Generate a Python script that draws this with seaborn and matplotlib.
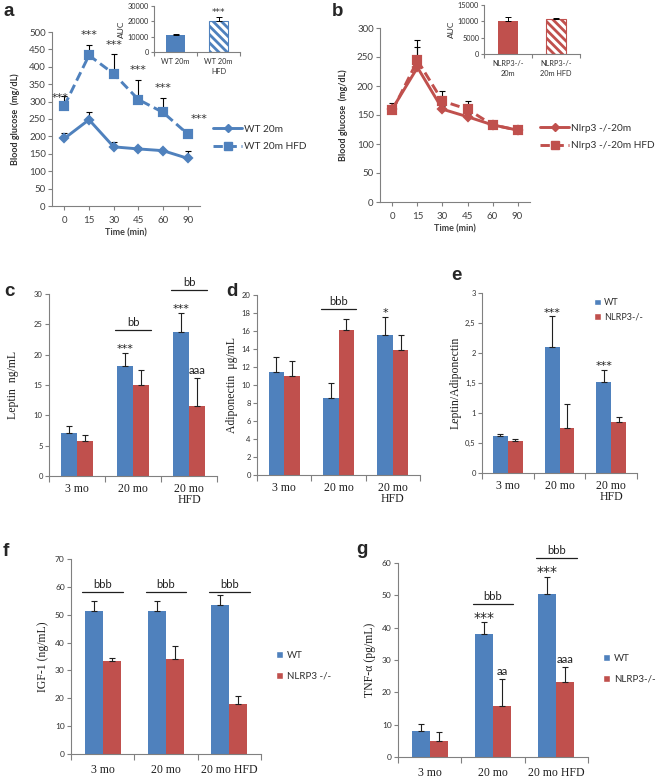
import numpy as np
import pandas as pd
import matplotlib
matplotlib.use("Agg")
import matplotlib.pyplot as plt
import seaborn as sns
from matplotlib.lines import Line2D
from matplotlib.patches import Patch
from matplotlib.ticker import FuncFormatter

# ---------------- DATA ----------------
times = ['0', '15', '30', '45', '60', '90']
wt20 = [194, 248, 170, 164, 159, 137]
wt20_err = [17, 21, 14, 6, 2, 20]
wt20hfd = [288, 433, 380, 306, 269, 207]
wt20hfd_err = [29, 29, 58, 57, 41, 10]
series_a = ['WT 20m', 'WT 20m HFD']

nl20 = [161, 232, 160, 147, 133, 124]
nl20_err = [10, 36, 5, 4, 4, 2]
nl20hfd = [158, 244, 174, 160, 133, 124]
nl20hfd_err = [4, 35, 18, 14, 5, 2]
series_b = ['Nlrp3 -/-20m', 'Nlrp3 -/-20m HFD']

auc_a_labels = ['WT 20m', 'WT 20m\nHFD']
auc_a = [11300, 20100]
auc_a_err = [400, 2800]
auc_b_labels = ['NLRP3-/-\n20m', 'NLRP3-/-\n20m HFD']
auc_b = [10200, 10700]
auc_b_err = [1000, 400]

groups_ce = ['3 mo', '20 mo', '20 mo\nHFD']
groups_fg = ['3 mo', '20 mo', '20 mo HFD']

leptin_wt = [7.1, 18.2, 23.8]
leptin_wt_err = [1.1, 2.1, 3.1]
leptin_ko = [5.7, 15.0, 11.6]
leptin_ko_err = [1.1, 2.4, 4.5]

adipo_wt = [11.5, 8.6, 15.6]
adipo_wt_err = [1.6, 1.6, 2.0]
adipo_ko = [11.0, 16.1, 13.9]
adipo_ko_err = [1.7, 1.2, 1.7]

ratio_wt = [0.61, 2.10, 1.52]
ratio_wt_err = [0.04, 0.51, 0.20]
ratio_ko = [0.53, 0.75, 0.85]
ratio_ko_err = [0.04, 0.40, 0.09]

igf_wt = [51.5, 51.5, 53.6]
igf_wt_err = [3.5, 3.3, 3.5]
igf_ko = [33.5, 34.2, 18.0]
igf_ko_err = [1.0, 4.7, 3.0]

tnf_wt = [7.9, 38.0, 50.3]
tnf_wt_err = [2.2, 3.6, 5.5]
tnf_ko = [5.1, 15.7, 23.1]
tnf_ko_err = [2.7, 8.5, 4.8]

# ---------------- STYLE ----------------
sns.set_theme(style='ticks')
plt.rcParams['font.family'] = ['Lato', 'DejaVu Sans']
plt.rcParams['hatch.linewidth'] = 2.0
SERIF = ['Liberation Serif', 'DejaVu Serif']
STARF = ['DejaVu Sans']
BLUE = '#4F81BD'
RED = '#C0504D'
AXC = '#808080'
W, H = 661, 779

fig = plt.figure(figsize=(W / 100, H / 100), dpi=100)
fig.patch.set_facecolor('white')


def px_rect(l, t, r, b):
    return [l / W, 1 - b / H, (r - l) / W, (b - t) / H]


def fx(x):
    return x / W


def fy(y):
    return 1 - y / H


def style_axes(ax):
    sns.despine(ax=ax)
    for s in ['left', 'bottom']:
        ax.spines[s].set_color(AXC)
        ax.spines[s].set_linewidth(0.8)
    ax.tick_params(axis='both', which='both', direction='out', color=AXC,
                   width=0.8, length=3, pad=1.5)
    ax.set_xlabel('')
    ax.set_ylabel('')
    ax.grid(False)


# ---------------- LINE PANELS (a, b) ----------------
def line_panel(rect, v1, e1, v2, e2, names, color, ymax, stars=None):
    ax = fig.add_axes(px_rect(*rect))
    df = pd.DataFrame({'time': times * 2, 'glucose': v1 + v2,
                       'group': [names[0]] * len(times) + [names[1]] * len(times)})
    sns.pointplot(data=df, x='time', y='glucose', hue='group', order=times,
                  hue_order=names, palette=[color, color], markers=['D', 's'],
                  linestyles=['-', '--'], errorbar=None, ax=ax, legend=False,
                  markersize=5, linewidth=2.1)
    for ln in ax.lines:
        if ln.get_marker() == 'D':
            ln.set_markersize(4)
        else:
            ln.set_markersize(5.4)
            ln.set_dashes([3.2, 1.6])
    xs = np.arange(len(times))
    for v, e in [(v1, e1), (v2, e2)]:
        ax.errorbar(xs, v, yerr=[np.zeros(len(e)), e], fmt='none', ecolor='black',
                    elinewidth=0.8, capsize=2.2, capthick=0.8, zorder=1)
    style_axes(ax)
    ax.set_xlim(-0.5, len(times) - 0.5)
    ax.set_ylim(0, ymax)
    ax.set_yticks(np.arange(0, ymax + 1, 50))
    ax.tick_params(axis='both', labelsize=7, colors='#404040')
    ax.tick_params(axis='x', pad=4)
    ax.tick_params(axis='both', color=AXC)
    ax.set_xlabel('Time (min)', fontsize=6.5, fontweight='bold', labelpad=3, color='#404040')
    if stars is not None:
        dx = [-0.16, 0, 0, 0, 0, 0.45]
        dy = [-6, 28, 24, 27, 30, 34]
        for i in range(len(times)):
            ax.text(i + dx[i], v2[i] + e2[i] + dy[i], stars[i], ha='center',
                    va='center', fontsize=8, family=STARF, color='#303030')
    return ax


axA = line_panel((52, 32, 200, 206), wt20, wt20_err, wt20hfd, wt20hfd_err,
                 series_a, BLUE, 500, stars=['***'] * 6)
axB = line_panel((380, 28, 530, 202), nl20, nl20_err, nl20hfd, nl20hfd_err,
                 series_b, RED, 300)

for ax, names, color, lx, ly in [(axA, series_a, BLUE, 213, 138), (axB, series_b, RED, 540, 137)]:
    hnd = [Line2D([], [], color=color, lw=2.1, marker='D', ms=4),
           Line2D([], [], color=color, lw=2.1, marker='s', ms=5.4, dashes=[3.2, 1.6])]
    fig.legend(hnd, names, loc='center left', bbox_to_anchor=(fx(lx), fy(ly)),
               frameon=False, fontsize=7.3, handlelength=2.9, handletextpad=0.2,
               labelspacing=0.85, borderpad=0, borderaxespad=0, labelcolor='#303030')

fig.text(fx(15), fy(119), 'Blood glucose  (mg/dL)', rotation=90, ha='center', va='center',
         fontsize=6.5, fontweight='bold', color='#303030')
fig.text(fx(343), fy(115), 'Blood glucose  (mg/dL)', rotation=90, ha='center', va='center',
         fontsize=6.5, fontweight='bold', color='#303030')


# ---------------- INSETS ----------------
def inset(rect, labels, vals, errs, color, ymax, step, star=None):
    ax = fig.add_axes(px_rect(*rect))
    sns.barplot(x=labels, y=vals, hue=labels, palette=[color, color], width=0.42,
                legend=False, ax=ax, linewidth=0, saturation=1)
    bars = [c[0] for c in ax.containers]
    hb = bars[1]
    hb.set_facecolor('white')
    hb.set_edgecolor(color)
    hb.set_linewidth(0.8)
    hb.set_hatch('\\' * 4)
    xs = [b.get_x() + b.get_width() / 2 for b in bars]
    ax.errorbar(xs, vals, yerr=[np.zeros(len(errs)), errs], fmt='none', ecolor='black',
                elinewidth=0.7, capsize=2, capthick=0.7)
    style_axes(ax)
    ax.set_ylim(0, ymax)
    ax.set_yticks(np.arange(0, ymax + 1, step))
    ax.set_xlim(-0.5, 1.5)
    ax.set_xticks(range(len(labels)))
    ax.set_xticklabels(labels, fontsize=5.3, linespacing=1.5)
    ax.tick_params(axis='x', which='major', length=0, pad=4)
    ax.set_xticks([-0.5, 0.5, 1.5], minor=True)
    ax.tick_params(axis='x', which='minor', length=3)
    ax.tick_params(axis='y', labelsize=5.3, length=2)
    ax.tick_params(axis='both', labelcolor='#303030')
    ax.set_ylabel('AUC', fontsize=6, labelpad=2, color='#303030')
    if star:
        ax.annotate(star, (xs[1], vals[1] + errs[1]), xytext=(0, 1),
                    textcoords='offset points', ha='center', va='baseline', fontsize=6.5,
                    family=STARF, color='#303030', annotation_clip=False)
    return ax


inset((154, 6, 240, 52), auc_a_labels, auc_a, auc_a_err, BLUE, 30000, 10000, star='***')
inset((484, 5, 580, 54), auc_b_labels, auc_b, auc_b_err, RED, 15000, 5000)


# ---------------- BAR PANELS ----------------
def bar_panel(rect, groups, genos, wt, wte, ko, koe, ymax, step, ylabel, ylabel_x,
              cat_fs=8.5, cat_pad=5, ytick_fs=5.5, wt_marks=None, star_fs=8, ko_marks=None,
              ko_ha='center', brackets=None, br_pad=0.12, br_uniform=False,
              fmt=None, legend=None):
    ax = fig.add_axes(px_rect(*rect))
    df = pd.DataFrame({'group': groups * 2, 'val': wt + ko,
                       'geno': [genos[0]] * len(groups) + [genos[1]] * len(groups)})
    sns.barplot(data=df, x='group', y='val', hue='geno', order=groups, hue_order=genos,
                palette=[BLUE, RED], width=0.57, errorbar=None, ax=ax, legend=False,
                linewidth=0, saturation=1)
    cw, ck = ax.containers[0], ax.containers[1]
    xw = [b.get_x() + b.get_width() / 2 for b in cw]
    xk = [b.get_x() + b.get_width() / 2 for b in ck]
    for xs, v, e in [(xw, wt, wte), (xk, ko, koe)]:
        ax.errorbar(xs, v, yerr=[np.zeros(len(e)), e], fmt='none', ecolor='#202020',
                    elinewidth=0.8, capsize=2.3, capthick=0.8)
    style_axes(ax)
    ax.set_ylim(0, ymax)
    ax.set_xlim(-0.5, len(groups) - 0.5)
    ax.set_yticks(np.arange(0, ymax + step / 2, step))
    if fmt:
        ax.yaxis.set_major_formatter(FuncFormatter(fmt))
    ax.tick_params(axis='y', labelsize=ytick_fs, labelcolor='#303030')
    ax.set_xticks(range(len(groups)))
    ax.set_xticklabels(groups, fontsize=cat_fs, family=SERIF, linespacing=0.95,
                       color='#202020')
    ax.tick_params(axis='x', which='major', length=0, pad=cat_pad)
    ax.set_xticks(np.arange(-0.5, len(groups)), minor=True)
    ax.tick_params(axis='x', which='minor', length=4)
    tops = [max(a + b, c + d) for a, b, c, d in zip(wt, wte, ko, koe)]
    if wt_marks:
        for i, m in enumerate(wt_marks):
            if m:
                ax.annotate(m, (xw[i], wt[i] + wte[i]), xytext=(0, 0.5),
                            textcoords='offset points', ha='center', va='baseline',
                            fontsize=star_fs, family=STARF, color='#202020',
                            annotation_clip=False)
    if ko_marks:
        for i, m in enumerate(ko_marks):
            if m:
                x0 = ck[i].get_x() if ko_ha == 'left' else xk[i]
                ax.annotate(m, (x0, ko[i] + koe[i]), xytext=(0, 3),
                            textcoords='offset points', ha=ko_ha, va='baseline',
                            fontsize=8.3, color='#202020', annotation_clip=False)
    if brackets:
        for i, m in enumerate(brackets):
            if m:
                lvl = (max(tops) if br_uniform else tops[i]) + br_pad * ymax
                ax.plot([i - 0.32, i + 0.32], [lvl, lvl], color='#202020', lw=0.9,
                        clip_on=False)
                ax.annotate(m, (i, lvl), xytext=(0, 1.5), textcoords='offset points',
                            ha='center', va='bottom', fontsize=8, color='#202020',
                            annotation_clip=False)
    cy = (rect[1] + rect[3]) / 2
    fig.text(fx(ylabel_x), fy(cy), ylabel, rotation=90, ha='center', va='center',
             fontsize=8.5, family=SERIF, color='#202020')
    if legend:
        lx, ly, spacing, fs = legend
        hnd = [Patch(facecolor=BLUE), Patch(facecolor=RED)]
        fig.legend(hnd, genos, loc='center left', bbox_to_anchor=(fx(lx), fy(ly)),
                   frameon=False, fontsize=fs, handlelength=0.75, handleheight=0.75,
                   handletextpad=0.35, labelspacing=spacing, borderpad=0,
                   borderaxespad=0, labelcolor='#303030')
    return ax


bar_panel((49, 294, 217, 476), groups_ce, ['WT', 'NLRP3-/-'], leptin_wt, leptin_wt_err,
          leptin_ko, leptin_ko_err, 30, 5, 'Leptin  ng/mL', 13,
          wt_marks=['', '***', '***'], ko_marks=['', '', 'aaa'], ko_ha='left',
          brackets=['', 'bb', 'bb'], br_pad=0.125)

bar_panel((257, 295, 420, 475), groups_ce, ['WT', 'NLRP3-/-'], adipo_wt, adipo_wt_err,
          adipo_ko, adipo_ko_err, 20, 2, 'Adiponectin  \u03bcg/mL', 232,
          wt_marks=['', '', '*'], brackets=['', 'bbb', ''], br_pad=0.055)

bar_panel((482, 293, 637, 473), groups_ce, ['WT', 'NLRP3-/-'], ratio_wt, ratio_wt_err,
          ratio_ko, ratio_ko_err, 3, 0.5, 'Leptin/Adiponectin', 456,
          wt_marks=['', '***', '***'], fmt=lambda v, p: f'{v:g}'.replace('.', ','),
          legend=(594, 310, 0.6, 6.5))

bar_panel((71, 559, 261, 754), groups_fg, ['WT', 'NLRP3 -/-'], igf_wt, igf_wt_err,
          igf_ko, igf_ko_err, 70, 10, 'IGF-1 (ng/mL)', 43, cat_pad=7, ytick_fs=6,
          brackets=['bbb', 'bbb', 'bbb'], br_pad=0.013, br_uniform=True,
          legend=(276, 666, 1.2, 7))

bar_panel((398, 563, 588, 757), groups_fg, ['WT', 'NLRP3-/-'], tnf_wt, tnf_wt_err,
          tnf_ko, tnf_ko_err, 60, 10, 'TNF-\u03b1 (pg/mL)', 370, cat_pad=7, ytick_fs=6,
          wt_marks=['', '***', '***'], star_fs=10, ko_marks=['', 'aa', 'aaa'],
          brackets=['', 'bbb', 'bbb'], br_pad=0.097,
          legend=(603, 669, 1.2, 7))

# ---------------- PANEL LETTERS ----------------
for letter, x, y in [('a', 3, 12), ('b', 332, 12), ('c', 4, 292), ('d', 226, 292),
                     ('e', 451, 275), ('f', 3, 552), ('g', 356, 550)]:
    fig.text(fx(x), fy(y), letter, fontsize=13.5, fontweight='bold', ha='left', va='center',
             family=['Liberation Sans', 'DejaVu Sans'])

fig.savefig('out.png', dpi=100, facecolor='white')
